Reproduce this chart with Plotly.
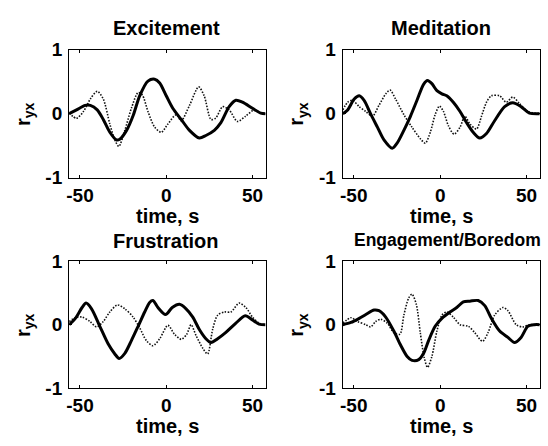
import plotly.graph_objects as go

W, H = 548, 446

titles = ["Excitement", "Meditation", "Frustration", "Engagement/Boredom"]
x_ticks = [-50, 0, 50]
y_ticks = [-1, 0, 1]
x_label = "time, s"
y_label = "r<sub>yx</sub>"

# ---- Excitement ----
exc_solid_t = [-56.3, -52, -47, -44, -40, -36.5, -32.7, -28.8, -27, -23, -19, -15.4, -10.6, -6.7, -3.8, 0, 3.8, 8.7, 13.5, 19.2, 23, 27.9, 31.7, 36.5, 40.4, 44.2, 50, 54.8, 57.6]
exc_solid_r = [0, 0.06, 0.13, 0.13, 0.06, -0.09, -0.29, -0.41, -0.40, -0.26, -0.015, 0.28, 0.51, 0.54, 0.48, 0.28, 0.085, -0.09, -0.26, -0.38, -0.34, -0.26, -0.14, 0.11, 0.21, 0.18, 0.085, 0.01, 0]
exc_dot_t = [-56.3, -52, -48, -44, -40, -36.5, -32.7, -29.8, -27.5, -24, -20.2, -16.3, -13.8, -10.6, -6.7, -2.9, 1, 5.8, 8.7, 13.5, 18.8, 22, 26, 28.8, 32.7, 36.5, 41.3, 46, 51, 54.8, 57.6]
exc_dot_r = [0.01, -0.07, 0.035, 0.23, 0.35, 0.23, -0.16, -0.41, -0.51, -0.26, 0.085, 0.33, 0.29, 0.035, -0.21, -0.29, -0.16, -0.015, -0.11, 0.13, 0.42, 0.28, -0.09, -0.065, 0.11, 0.06, -0.12, -0.04, 0.06, 0.01, 0]

# ---- Meditation ----
med_solid_t = [-56.3, -53.5, -49.7, -46.8, -44, -40, -36.3, -32.5, -27.7, -24.9, -21, -17.2, -13.4, -9.6, -7.3, -4.8, -1.9, 1, 3.8, 7.6, 11.5, 15.3, 19.1, 22.9, 26.8, 31.5, 37.3, 42, 46.8, 51.6, 57.6]
med_solid_r = [0, 0.06, 0.23, 0.28, 0.21, -0.015, -0.21, -0.41, -0.54, -0.46, -0.26, -0.04, 0.21, 0.46, 0.52, 0.47, 0.36, 0.31, 0.28, 0.18, 0.035, -0.14, -0.29, -0.38, -0.31, -0.11, 0.11, 0.17, 0.11, 0.01, 0]
med_dot_t = [-56.3, -53.5, -50.7, -46.8, -43, -39.2, -35.4, -31.5, -29, -25.8, -21, -16.3, -11.5, -8.6, -5.7, -2.9, -0.4, 1.9, 4.8, 8, 11.5, 14.3, 17.2, 21, 23.9, 26.8, 29.6, 34.4, 38.2, 42, 45.9, 50.7, 57.6]
med_dot_r = [0.06, 0.18, 0.21, 0.11, 0.035, -0.04, 0.13, 0.31, 0.37, 0.23, -0.015, -0.21, -0.39, -0.46, -0.29, -0.015, 0.12, 0.035, -0.19, -0.32, -0.21, -0.04, -0.16, -0.24, -0.04, 0.18, 0.28, 0.28, 0.18, 0.26, 0.16, 0.035, 0]

# ---- Frustration ----
fru_solid_t = [-56.3, -52.7, -48.8, -46.5, -43.3, -38.5, -33.7, -29.8, -27.3, -24, -20.2, -16.3, -12.5, -9.6, -7.7, -4.8, -0.4, 3.5, 7.7, 11.5, 15.4, 19.2, 23, 26, 29.8, 34.6, 40.4, 45.8, 50, 53.8, 57.6]
fru_solid_r = [0, 0.1, 0.27, 0.34, 0.25, -0.025, -0.3, -0.46, -0.53, -0.45, -0.25, -0.025, 0.2, 0.35, 0.38, 0.27, 0.16, 0.27, 0.32, 0.25, 0.12, -0.075, -0.22, -0.28, -0.22, -0.12, 0.025, 0.14, 0.075, 0.01, 0]
fru_dot_t = [-56.3, -52.7, -48.8, -44.2, -40.4, -36.5, -32.7, -28.3, -24, -19.2, -15.4, -11.5, -7.7, -3.8, 1, 4.8, 8.7, 11.9, 14.4, 17.3, 21.2, 24, 26.9, 29.8, 33.7, 37.5, 42.3, 46.2, 50, 53.8, 57.6]
fru_dot_r = [0.05, 0.11, 0.12, 0.05, -0.035, 0.05, 0.2, 0.31, 0.25, 0.12, -0.05, -0.25, -0.33, -0.22, -0.01, -0.15, -0.23, -0.15, 0, -0.17, -0.37, -0.46, -0.075, 0.15, 0.2, 0.2, 0.34, 0.27, 0.12, 0.025, 0]

# ---- Engagement/Boredom ----
eng_solid_t = [-56.3, -51.6, -46.8, -43, -38.2, -35.4, -31.5, -26.8, -22.9, -19.1, -16.3, -12.4, -9.6, -6.7, -2.9, 1, 5.7, 9.6, 13.4, 17.2, 22, 25.8, 29.6, 34.4, 39.2, 43, 46.8, 50.7, 54.5, 57.6]
eng_solid_r = [0, 0.035, 0.1, 0.16, 0.23, 0.22, 0.12, -0.1, -0.32, -0.5, -0.56, -0.55, -0.45, -0.25, -0.025, 0.1, 0.2, 0.27, 0.36, 0.37, 0.38, 0.3, 0.1, -0.1, -0.2, -0.28, -0.2, -0.025, 0, 0]
eng_dot_t = [-56.3, -51.6, -47.8, -43, -40.2, -37.3, -34.4, -30.6, -26.8, -23.3, -21, -18.2, -16.3, -13.8, -11.5, -9.2, -7.3, -4.8, -1.9, 1, 3.8, 7.6, 11.5, 16.3, 20, 24.5, 27.7, 31.5, 36.3, 39.2, 44, 47.8, 51.6, 57.6]
eng_dot_r = [0.025, 0.11, 0.05, 0, -0.035, 0.05, 0.085, 0.025, -0.125, -0.15, 0.15, 0.42, 0.48, 0.32, -0.125, -0.52, -0.67, -0.5, -0.1, 0.15, 0.2, 0.12, 0, -0.025, -0.125, -0.26, -0.125, 0.15, 0.27, 0.22, 0, -0.035, 0, 0]

panels = [
    (exc_solid_t, exc_solid_r, exc_dot_t, exc_dot_r),
    (med_solid_t, med_solid_r, med_dot_t, med_dot_r),
    (fru_solid_t, fru_solid_r, fru_dot_t, fru_dot_r),
    (eng_solid_t, eng_solid_r, eng_dot_t, eng_dot_r),
]

# panel boxes in pixels: (left, right, top, bottom)
boxes = [
    (66.5, 264.0, 41.7, 176.0),
    (341.7, 539.7, 41.7, 176.0),
    (66.5, 264.0, 263.5, 397.0),
    (341.7, 539.7, 263.5, 397.0),
]
title_pos = [(164, 19), (440, 19), (164, 242), (447, 241)]
title_size = [20, 20, 20, 17.5]

FONT = "Liberation Sans, Arial, sans-serif"
TICK_SIZE = 19
LABEL_SIZE = 20

fig = go.Figure()
layout = dict(
    width=W, height=H,
    margin=dict(l=0, r=0, t=0, b=0),
    paper_bgcolor="white", plot_bgcolor="white",
    showlegend=False,
    font=dict(family=FONT, color="black", weight="bold"),
)
annotations = []

for i, (st, sr, dt, dr) in enumerate(panels):
    n = "" if i == 0 else str(i + 1)
    xa, ya = "x" + n, "y" + n
    fig.add_trace(go.Scatter(x=dt, y=dr, mode="lines", xaxis=xa, yaxis=ya,
                             line=dict(color="#111", width=1.6, dash="1.5px,1.5px", shape="spline", smoothing=0.8)))
    fig.add_trace(go.Scatter(x=st, y=sr, mode="lines", xaxis=xa, yaxis=ya,
                             line=dict(color="black", width=3, shape="spline", smoothing=0.8)))
    l, r, t, b = boxes[i]
    common = dict(showline=True, linecolor="black", linewidth=1.2, mirror="ticks",
                  ticks="inside", ticklen=3, tickwidth=1, tickcolor="black",
                  showgrid=False, zeroline=False,
                  tickfont=dict(family=FONT, size=TICK_SIZE, color="black", weight="bold"))
    layout["xaxis" + n] = dict(domain=[l / W, r / W], anchor=ya, range=[-56.3, 57.6],
                               tickvals=x_ticks, ticktext=[str(v) for v in x_ticks],
                               ticklabelstandoff=0, **common)
    layout["yaxis" + n] = dict(domain=[1 - b / H, 1 - t / H], anchor=xa, range=[-1, 1],
                               tickvals=y_ticks, ticktext=[str(v) for v in y_ticks],
                               ticklabelstandoff=2, **common)
    tx, ty = title_pos[i]
    annotations.append(dict(text=titles[i], x=tx / W, y=1 - ty / H, xref="paper", yref="paper",
                            showarrow=False, xanchor="center", yanchor="middle",
                            font=dict(family=FONT, size=title_size[i], color="black", weight="bold")))
    annotations.append(dict(text=x_label, x=(l + r) / 2 / W, y=1 - (b + 40) / H, xref="paper", yref="paper",
                            showarrow=False, xanchor="center", yanchor="middle",
                            font=dict(family=FONT, size=LABEL_SIZE, color="black", weight="bold")))
    annotations.append(dict(text=y_label, x=(l - 45) / W, y=1 - (t + b) / 2 / H, xref="paper", yref="paper",
                            showarrow=False, xanchor="center", yanchor="middle", textangle=-90,
                            font=dict(family=FONT, size=LABEL_SIZE, color="black", weight="bold")))

layout["annotations"] = annotations
fig.update_layout(**layout)
fig.write_html("out.html")
